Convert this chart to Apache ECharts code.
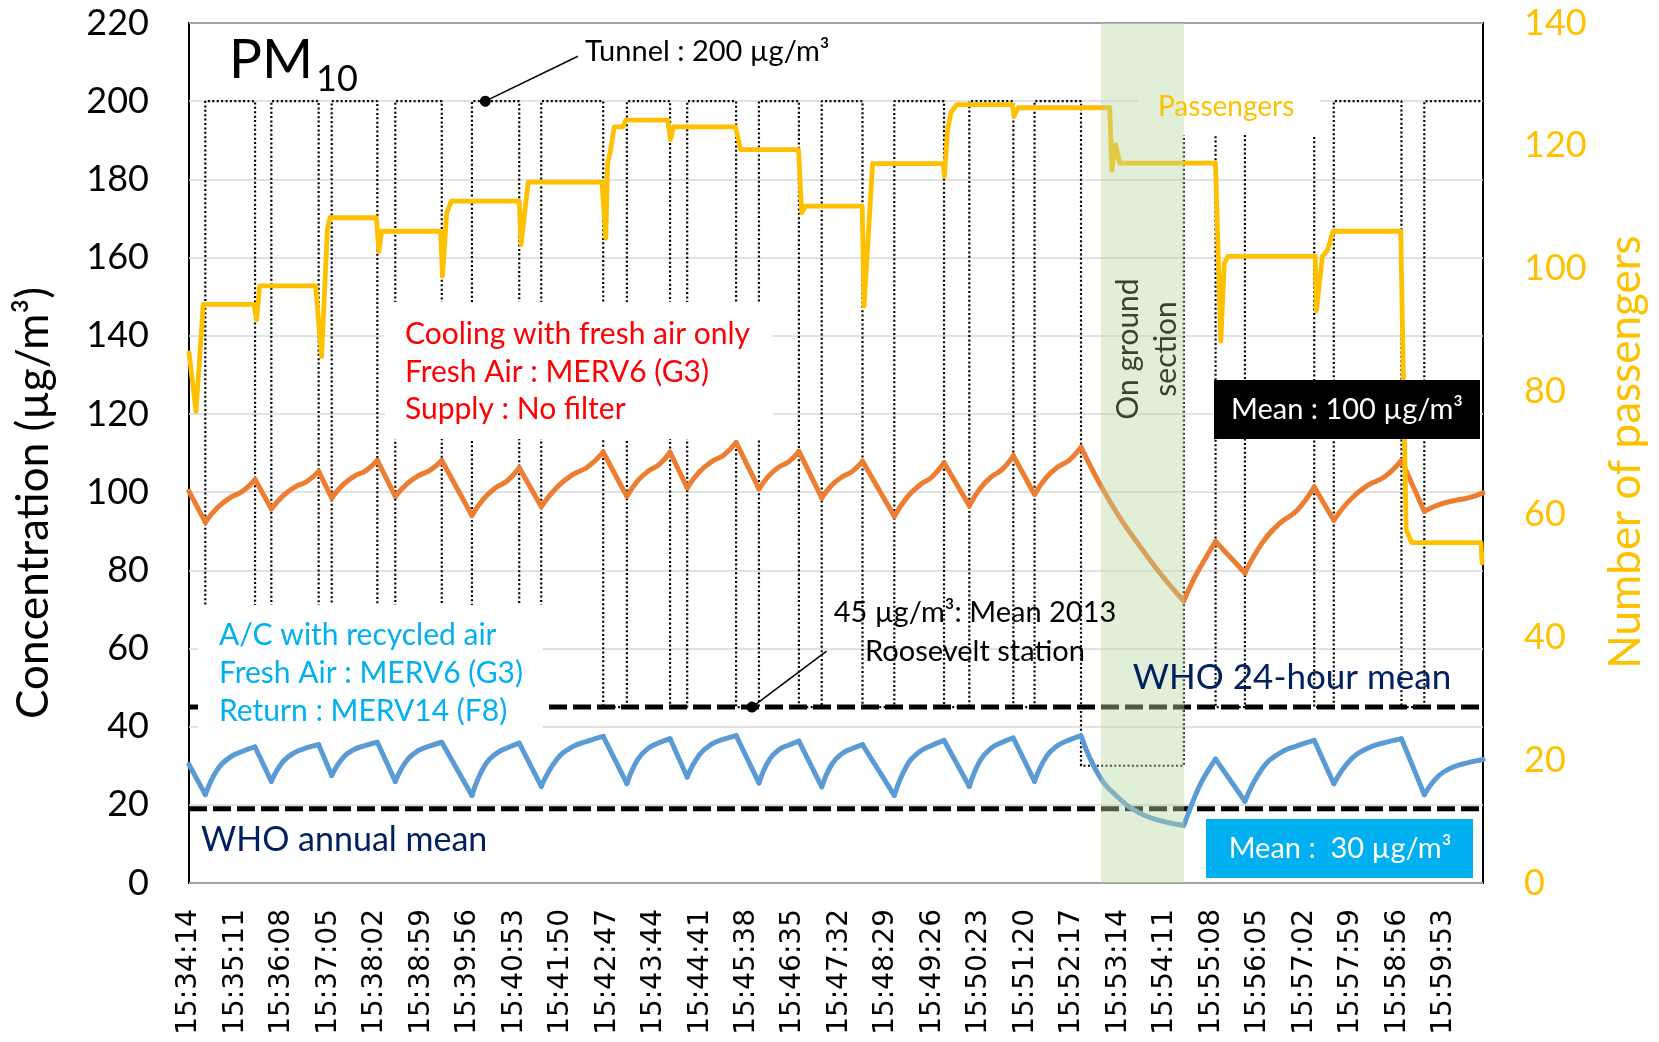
<!DOCTYPE html>
<html>
<head>
<meta charset="utf-8">
<script src="https://cdn.jsdelivr.net/npm/echarts/dist/echarts.min.js"></script>
<style>
html,body{margin:0;padding:0;background:#fff;}
#c{width:1659px;height:1042px;}
</style>
</head>
<body>
<div id="c"></div>
<script>
// ---------- DATA ----------
const startClock = [15, 34, 14];          // first sample time
const tickStepSeconds = 57;                // spacing of time labels
const lastSecond = 1587;                   // end of record (s)
const concTicks = [0, 220, 20];            // min, max, step of concentration axis
const passTicks = [0, 140, 20];            // min, max, step of passengers axis

// tunnel (200) / station (45) / on-ground (30) profile (step changes)
const profileTimes  = [0,20,81,101,159,175,231,253,310,347,405,432,508,537,590,611,671,699,748,776,826,865,926,957,1011,1037,1094,1220,1259,1295,1380,1404,1487,1515,1587];
const profileValues = [45,200,45,200,45,200,45,200,45,200,45,200,45,200,45,200,45,200,45,200,45,200,45,200,45,200,30,200,45,200,45,200,45,200,200];
const stationLevel = 45;

// PM10 inside the bus, sampling times (s)
const pmTimes = [0,
  20,35.3,50.5,65.8,81, 101,115.5,130,144.5,159, 175,189,203,217,231, 253,267.3,281.5,295.8,310,
  347,361.5,376,390.5,405, 432,451,470,489,508, 537,550.3,563.5,576.8,590, 611,626,641,656,671,
  699,711.3,723.5,735.8,748, 776,788.5,801,813.5,826, 865,880.3,895.5,910.8,926, 957,970.5,984,997.5,1011,
  1037,1051.3,1065.5,1079.8,1094, 1116,1140,1165,1190, 1220,1229.8,1239.5,1249.3,1259,
  1295,1316.3,1337.5,1358.8,1380, 1404,1424.8,1445.5,1466.3,1487, 1515,1533,1551,1569,1587];
// Cooling with fresh air only
const freshAirValues = [100.2,
  92.3,96.1,98.6,100.2,103.2, 95.7,99.1,101.3,102.7,105.3, 98.5,101.9,104.1,105.5,108.1, 98.9,102.1,104.2,105.6,108.1,
  94,98.3,101.1,102.9,106.2, 96.3,101.2,104.4,106.4,110.2, 98.9,102.9,105.4,107.1,110.2, 101.1,105.2,107.8,109.5,112.7,
  100.8,104.2,106.4,107.8,110.4, 98.5,101.8,103.9,105.3,107.9, 93.8,98.6,101.7,103.8,107.5, 96.5,101,103.9,105.8,109.3,
  99.4,103.7,106.4,108.2,111.5, 102.5,94,86.5,79.5, 72.1,76.7,80.5,84,87.4,
  79.3,87,92,95.3,101.3, 92.8,98.2,101.7,103.9,108.1, 95.1,96.8,97.8,98.5,99.8];
// A/C with recycled air
const recycledValues = [30.3,
  22.6,29.2,32.2,33.7,34.8, 26,31.1,33.4,34.6,35.4, 27.5,32.1,34.2,35.2,36, 26,31.4,33.9,35.1,36,
  22.4,29.6,33,34.6,35.8, 24.7,31.6,34.8,36.3,37.5, 25.4,31.6,34.5,35.9,36.9, 27.1,32.8,35.5,36.8,37.7,
  25.6,31.4,34.1,35.3,36.3, 24.6,30.4,33.1,34.4,35.4, 22.4,30,33.5,35.2,36.5, 24.7,31.4,34.5,36,37.1,
  26,32.3,35.2,36.6,37.7, 27.5,21.8,18,16, 14.7,20.1,24.9,28.6,31.7,
  20.9,29.3,33.2,35.1,36.5, 25.4,31.6,34.5,35.9,36.9, 22.6,27.5,29.7,30.8,31.6];

// Number of passengers
const passTimes  = [0,8.6,17.4,79.6,82.9,86.6,155.3,162.6,169.7,172.8,229.8,232.9,236.2,308.6,310.9,316,321.8,405,407.2,416,
  506.5,511.2,513.4,516.8,521.5,532.3,535.6,587.2,590.5,594.3,670.3,676.5,747.6,751.4,756.2,825.6,827.9,838.4,925.1,926.5,
  930.3,934.5,941.5,1009.6,1011.9,1016.7,1129.3,1131.8,1136.4,1141.5,1258.9,1265.4,1269.8,1274.1,1381.3,1382.6,1390,1396.6,1403.1,1486.1,
  1492.8,1499.4,1584.6,1585.8];
const passValues = [86.3,76.8,94.2,94.2,91.7,97.2,97.2,85.7,106.4,108.3,108.3,102.8,106.1,106.1,98.8,109.1,111,111,103.9,114.1,
  114.1,105,117.2,119.1,123.1,123.1,124.2,124.2,121,123.1,123.1,119.4,119.4,109.1,110.2,110.2,93.9,117.1,117.1,115,
  122.6,125.4,126.7,126.7,124.8,126.2,126.2,116,120.2,117.2,117.2,88.2,100.9,102,102,93.1,102,103.1,106.1,106.1,
  57.5,55.4,55.4,52.1];

// reference levels
const who24hLevel = 45;
const whoAnnualLevel = 19;
// on-ground section (s)
const groundSection = [1118.6, 1220.5];
// annotation anchors [time, value]
const tunnelNote = [[363.4, 200], [477, 211.5]];
const stationNote = [[690.5, 45], [782, 59.3]];

// ---------- CHART ----------
const pair = (ts, vs) => ts.map((t, i) => [t, vs[i]]);
// split a measured series into pieces following the profile intervals
// (curved pieces in tunnels / on ground, straight pieces at stations)
function pieces(times, values, wantStation) {
  const out = [];
  for (let k = 0; k < profileTimes.length - 1; k++) {
    const isStation = profileValues[k] === stationLevel;
    if (isStation !== wantStation) continue;
    const a = profileTimes[k], b = profileTimes[k + 1];
    times.forEach((t, i) => { if (t >= a && t <= b) out.push([t, values[i]]); });
    out.push(['-', '-']);
  }
  return out;
}
const baseSec = startClock[0] * 3600 + startClock[1] * 60 + startClock[2];
function fmtTime(v) {
  const s = baseSec + Math.round(v);
  const h = Math.floor(s / 3600), m = Math.floor((s % 3600) / 60), ss = s % 60;
  return h + ':' + String(m).padStart(2, '0') + ':' + String(ss).padStart(2, '0');
}

const chart = echarts.init(document.getElementById('c'), null, { renderer: 'canvas' });
const F = 'Lato, "Open Sans", sans-serif';

function txt(text, x, y, size, color, align, extra) {
  return Object.assign({
    type: 'text', x: x, y: y, z: 20, silent: true,
    style: { text: text, font: size + 'px ' + F, fill: color, textAlign: align || 'left', textVerticalAlign: 'middle' }
  }, extra || {});
}
function box(x, y, w, h, fill) {
  return { type: 'rect', z: 8, silent: true, shape: { x: x, y: y, width: w, height: h }, style: { fill: fill } };
}

const lineBase = { type: 'line', symbol: 'none', silent: true, animation: false, connectNulls: false };
function pmSeries(name, values, color) {
  const style = { color: color, width: 5, join: 'round', cap: 'round' };
  return [
    Object.assign({}, lineBase, { name: name, z: 4, smooth: 0.45, data: pieces(pmTimes, values, false), lineStyle: style }),
    Object.assign({}, lineBase, { name: name, z: 4, data: pieces(pmTimes, values, true), lineStyle: style })
  ];
}

const option = {
  animation: false,
  backgroundColor: '#fff',
  grid: { left: 189, right: 176, top: 23, bottom: 159, show: true, borderColor: '#000', borderWidth: 2,
          containLabel: false, outerBoundsMode: 'none' },
  xAxis: {
    type: 'value', min: 0, max: lastSecond, interval: tickStepSeconds,
    axisLine: { show: false }, axisTick: { show: false }, splitLine: { show: false },
    axisLabel: { rotate: 90, fontFamily: 'DejaVu Sans', fontSize: 28, color: '#000', margin: 26,
                 showMaxLabel: false, showMinLabel: true, formatter: fmtTime }
  },
  yAxis: [
    { type: 'value', min: concTicks[0], max: concTicks[1], interval: concTicks[2],
      axisLine: { show: false }, axisTick: { show: false },
      splitLine: { lineStyle: { color: '#d9d9d9', width: 1.5 } },
      axisLabel: { fontFamily: F, fontSize: 36, color: '#000', margin: 40 } },
    { type: 'value', position: 'right', min: passTicks[0], max: passTicks[1], interval: passTicks[2],
      axisLine: { show: false }, axisTick: { show: false }, splitLine: { show: false },
      axisLabel: { fontFamily: F, fontSize: 36, color: '#ffc000', margin: 41 } }
  ],
  series: [
    Object.assign({}, lineBase, {
      name: 'profile', step: 'end', z: 2,
      data: pair(profileTimes, profileValues),
      lineStyle: { color: '#000', width: 2.2, type: [2, 2.4] },
      markLine: {
        silent: true, z: 6, symbol: ['circle', 'none'], symbolSize: 11, animation: false,
        label: { show: false },
        lineStyle: { color: '#000', width: 1.5, type: 'solid' },
        data: [
          [{ coord: tunnelNote[0] }, { coord: tunnelNote[1] }],
          [{ coord: stationNote[0] }, { coord: stationNote[1] }]
        ]
      },
      markArea: {
        silent: true, z: 10, animation: false,
        itemStyle: { color: 'rgba(183,215,163,0.42)' },
        data: [[{ xAxis: groundSection[0], yAxis: 0 }, { xAxis: groundSection[1], yAxis: 226 }]]
      }
    }),
    Object.assign({}, lineBase, {
      name: 'WHO 24-hour mean', z: 3,
      data: [[0, who24hLevel], [lastSecond, who24hLevel]],
      lineStyle: { color: '#000', width: 5, type: [18, 6] }
    }),
    Object.assign({}, lineBase, {
      name: 'WHO annual mean', z: 3,
      data: [[0, whoAnnualLevel], [lastSecond, whoAnnualLevel]],
      lineStyle: { color: '#000', width: 5, type: [18, 6] }
    })
  ].concat(
    pmSeries('Fresh air', freshAirValues, '#ed7d31'),
    pmSeries('Recycled air', recycledValues, '#5b9bd5'),
    [Object.assign({}, lineBase, {
      name: 'Passengers', z: 5, yAxisIndex: 1,
      data: pair(passTimes, passValues),
      lineStyle: { color: '#ffc000', width: 4.8, join: 'round', cap: 'round' }
    })]
  ),
  graphic: [
    box(385, 302, 388, 137, '#fff'),
    box(198, 605, 345, 128, '#fff'),
    box(1138, 86, 182, 49, '#fff'),
    box(1214, 380, 266, 59, '#000'),
    box(1206, 819, 267, 59, '#00b0f0'),
    // titles
    txt('PM', 229, 60, 55, '#000', 'left'),
    txt('10', 316, 79, 36, '#000', 'left'),
    txt('Concentration (µg/m³)', 34, 503, 44, '#000', 'center', { rotation: Math.PI / 2 }),
    txt('Number of passengers', 1626, 452, 44, '#ffc000', 'center', { rotation: Math.PI / 2 }),
    // annotations
    txt('Tunnel : 200 µg/m³', 585, 52, 29, '#000', 'left'),
    txt('Passengers', 1158, 107, 28, '#ffc000', 'left'),
    txt('Cooling with fresh air only', 405, 334, 30, '#ff0000', 'left'),
    txt('Fresh Air : MERV6 (G3)', 405, 372, 30, '#ff0000', 'left'),
    txt('Supply : No filter', 405, 409, 30, '#ff0000', 'left'),
    txt('A/C with recycled air', 219, 635, 30, '#00b0f0', 'left'),
    txt('Fresh Air : MERV6 (G3)', 219, 673, 30, '#00b0f0', 'left'),
    txt('Return : MERV14 (F8)', 219, 711, 30, '#00b0f0', 'left'),
    txt('45 µg/m³: Mean 2013', 975, 613, 29, '#000', 'center'),
    txt('Roosevelt station', 975, 652, 29, '#000', 'center'),
    txt('WHO 24-hour mean', 1292, 678, 35, '#002060', 'center'),
    txt('WHO annual mean', 201, 840, 34, '#002060', 'left'),
    txt('On ground', 1128, 349, 30, '#3a4232', 'center', { rotation: Math.PI / 2 }),
    txt('section', 1166, 349, 30, '#3a4232', 'center', { rotation: Math.PI / 2 }),
    txt('Mean : 100 µg/m³', 1347, 410, 29, '#fff', 'center'),
    txt('Mean :  30 µg/m³', 1340, 849, 29, '#fff', 'center')
  ]
};
chart.setOption(option);
</script>
</body>
</html>
